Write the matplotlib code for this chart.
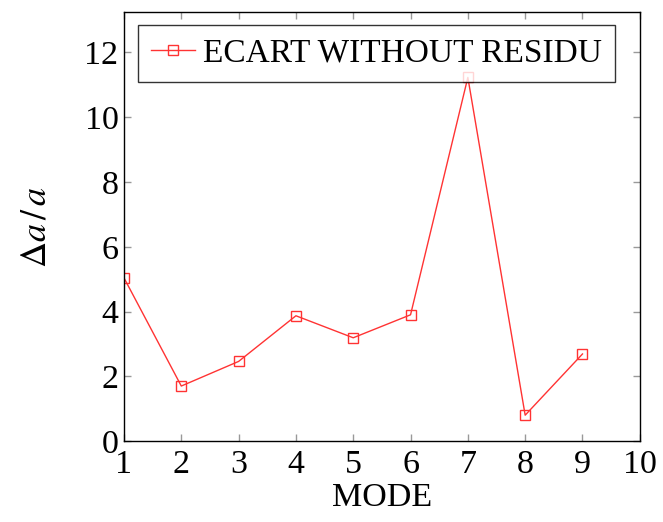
import matplotlib.pyplot as plt

# mode number and relative error
modes = [1, 2, 3, 4, 5, 6, 7, 8, 9]
ecart = [5.04, 1.70, 2.46, 3.87, 3.19, 3.90, 11.23, 0.80, 2.69]

plt.rcParams['font.family'] = 'Liberation Serif'
plt.rcParams['mathtext.fontset'] = 'stix'

fig = plt.figure(figsize=(6.63, 5.22), dpi=100)
ax = fig.add_axes([0.187, 0.155, 0.778, 0.822])

ax.plot(modes, ecart, color='#ff3333', lw=1, marker='s', ms=7.5,
        mfc='none', mec='#ff3333', mew=1, label='ECART WITHOUT RESIDU')

ax.set_xlim(1, 10)
ax.set_ylim(0, 13.25)
ax.set_xticks(range(1, 11))
ax.set_yticks(range(0, 13, 2))
ax.tick_params(direction='in', length=5, color='#999999', width=1,
               top=True, right=True, labelsize=24.5, pad=4)
ax.tick_params(axis='x', pad=6)
for s in ax.spines.values():
    s.set_linewidth(1)

ax.set_xlabel('MODE', fontsize=24.5, labelpad=2)
ax.set_ylabel(r'$\Delta a\,/\,a$', fontsize=26, labelpad=22)

leg = ax.legend(loc='upper left', fontsize=24, frameon=True, fancybox=False,
                edgecolor='black', borderpad=0.4, handlelength=1.3,
                handletextpad=0.25, borderaxespad=0, bbox_to_anchor=(0.027, 0.97))
leg.get_frame().set_linewidth(1)

fig.savefig('out.png', dpi=100)
